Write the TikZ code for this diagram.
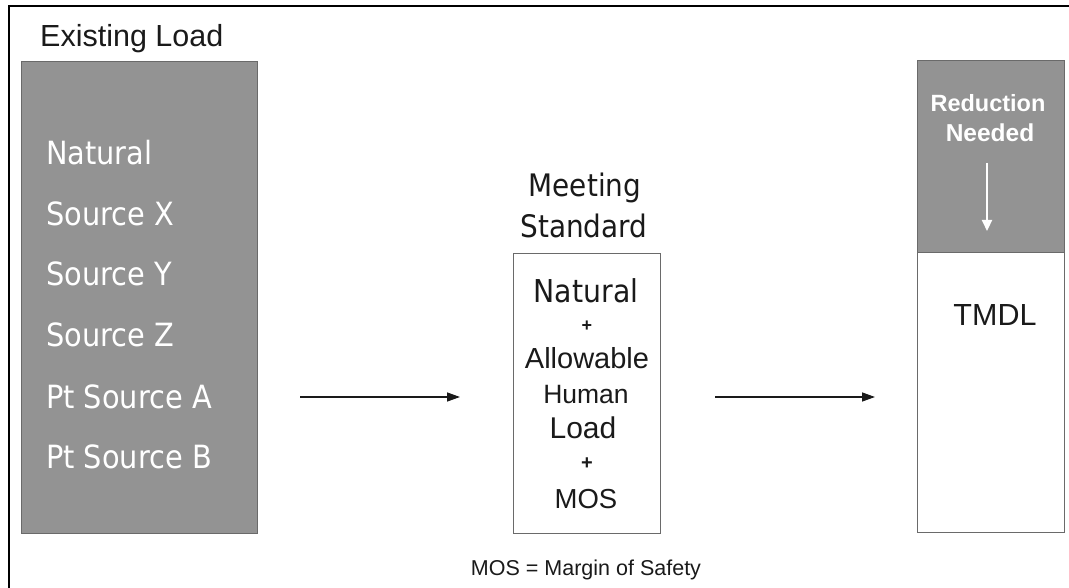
\documentclass[tikz,border=0pt]{standalone}
\usepackage{fontspec}
\setmainfont{Liberation Sans}
\newfontfamily\tah[FakeStretch=0.9]{DejaVu Sans}
\usetikzlibrary{arrows.meta}
\definecolor{boxgray}{HTML}{939393}
\definecolor{edgegray}{HTML}{6A6A6A}
\definecolor{ink}{HTML}{1A1A1A}
\newcommand{\fs}[1]{\fontsize{#1}{#1}\selectfont}
\tikzset{
  graybox/.style={draw=edgegray, line width=1.2pt, fill=boxgray, inner sep=0pt, anchor=north west},
  whitebox/.style={draw=edgegray, line width=1.2pt, fill=white, inner sep=0pt, anchor=north west},
  listitem/.style={anchor=base west, inner sep=0pt, text=white, font=\tah\fs{32}},
  midtxt/.style={anchor=base, inner sep=0pt, text=ink},
  flow/.style={line width=1.3pt, draw=ink, -{Triangle[length=13pt,width=9pt]}},
}
\begin{document}
\begin{tikzpicture}[x=1pt,y=-1pt]
\useasboundingbox (0,0) rectangle (1069,588);
\fill[white] (0,0) rectangle (1069,588);
% outer frame (only top and left edges visible)
\draw[line width=2pt, black] (9,588) -- (9,6) -- (1069,6);

% Existing load
\node[anchor=base west, inner sep=0pt, text=ink, font=\fs{30.5}] (exlabel) at (40,47) {Existing Load};
\node[graybox, minimum width=236pt, minimum height=472pt] (exbox) at (21,61) {};
\node[listitem] (n1) at (46,165) {Natural};
\node[listitem] (n2) at (46,226) {Source X};
\node[listitem] (n3) at (46,286) {Source Y};
\node[listitem] (n4) at (46,346) {Source Z};
\node[listitem] (n5) at (46,408) {Pt Source A};
\node[listitem] (n6) at (46,468) {Pt Source B};

% Meeting standard
\node[midtxt, font=\tah\fs{31}] (ms1) at (585,197) {Meeting};
\node[midtxt, font=\tah\fs{31}] (ms2) at (584,238) {Standard};
\node[whitebox, minimum width=147pt, minimum height=280pt] (msbox) at (513,253) {};
\node[midtxt, font=\tah\fs{31.5}] (m1) at (586,302) {Natural};
\node[anchor=center, inner sep=0pt, text=ink, font=\bfseries\fs{18}] (p1) at (587,326) {+};
\node[midtxt, font=\fs{29}] (m2) at (587,368) {Allowable};
\node[midtxt, font=\fs{26.5}] (m3) at (586,403) {Human};
\node[midtxt, font=\fs{30}] (m4) at (583,438) {Load};
\node[anchor=center, inner sep=0pt, text=ink, font=\bfseries\fs{20}] (p2) at (587,464) {+};
\node[midtxt, font=\fs{27.5}] (m5) at (586,508) {MOS};
\node[midtxt, font=\fs{21.5}] (cap) at (586,575) {MOS = Margin of Safety};

% TMDL
\node[graybox, minimum width=147pt, minimum height=192pt] (redbox) at (917,60) {};
\node[whitebox, minimum width=147pt, minimum height=280pt] (tmdlbox) at (917,252) {};
\node[anchor=base, inner sep=0pt, text=white, font=\bfseries\fs{23.5}] (r1) at (988,112) {Reduction};
\node[anchor=base, inner sep=0pt, text=white, font=\bfseries\fs{24.5}] (r2) at (990,142) {Needed};
\node[anchor=base, inner sep=0pt, text=ink, font=\fs{30.5}] (tm) at (995,325) {TMDL};

% connectors
\coordinate (a1s) at (300,397);
\coordinate (a1e) at (460,397);
\coordinate (a2s) at (715,397);
\coordinate (a2e) at (875,397);
\coordinate (d1s) at (987,163);
\coordinate (d1e) at (987,231);
\draw[flow] (a1s) -- (a1e);
\draw[flow] (a2s) -- (a2e);
\draw[line width=2.2pt, white, -{Triangle[length=11pt,width=10pt]}] (d1s) -- (d1e);
\end{tikzpicture}
\end{document}
